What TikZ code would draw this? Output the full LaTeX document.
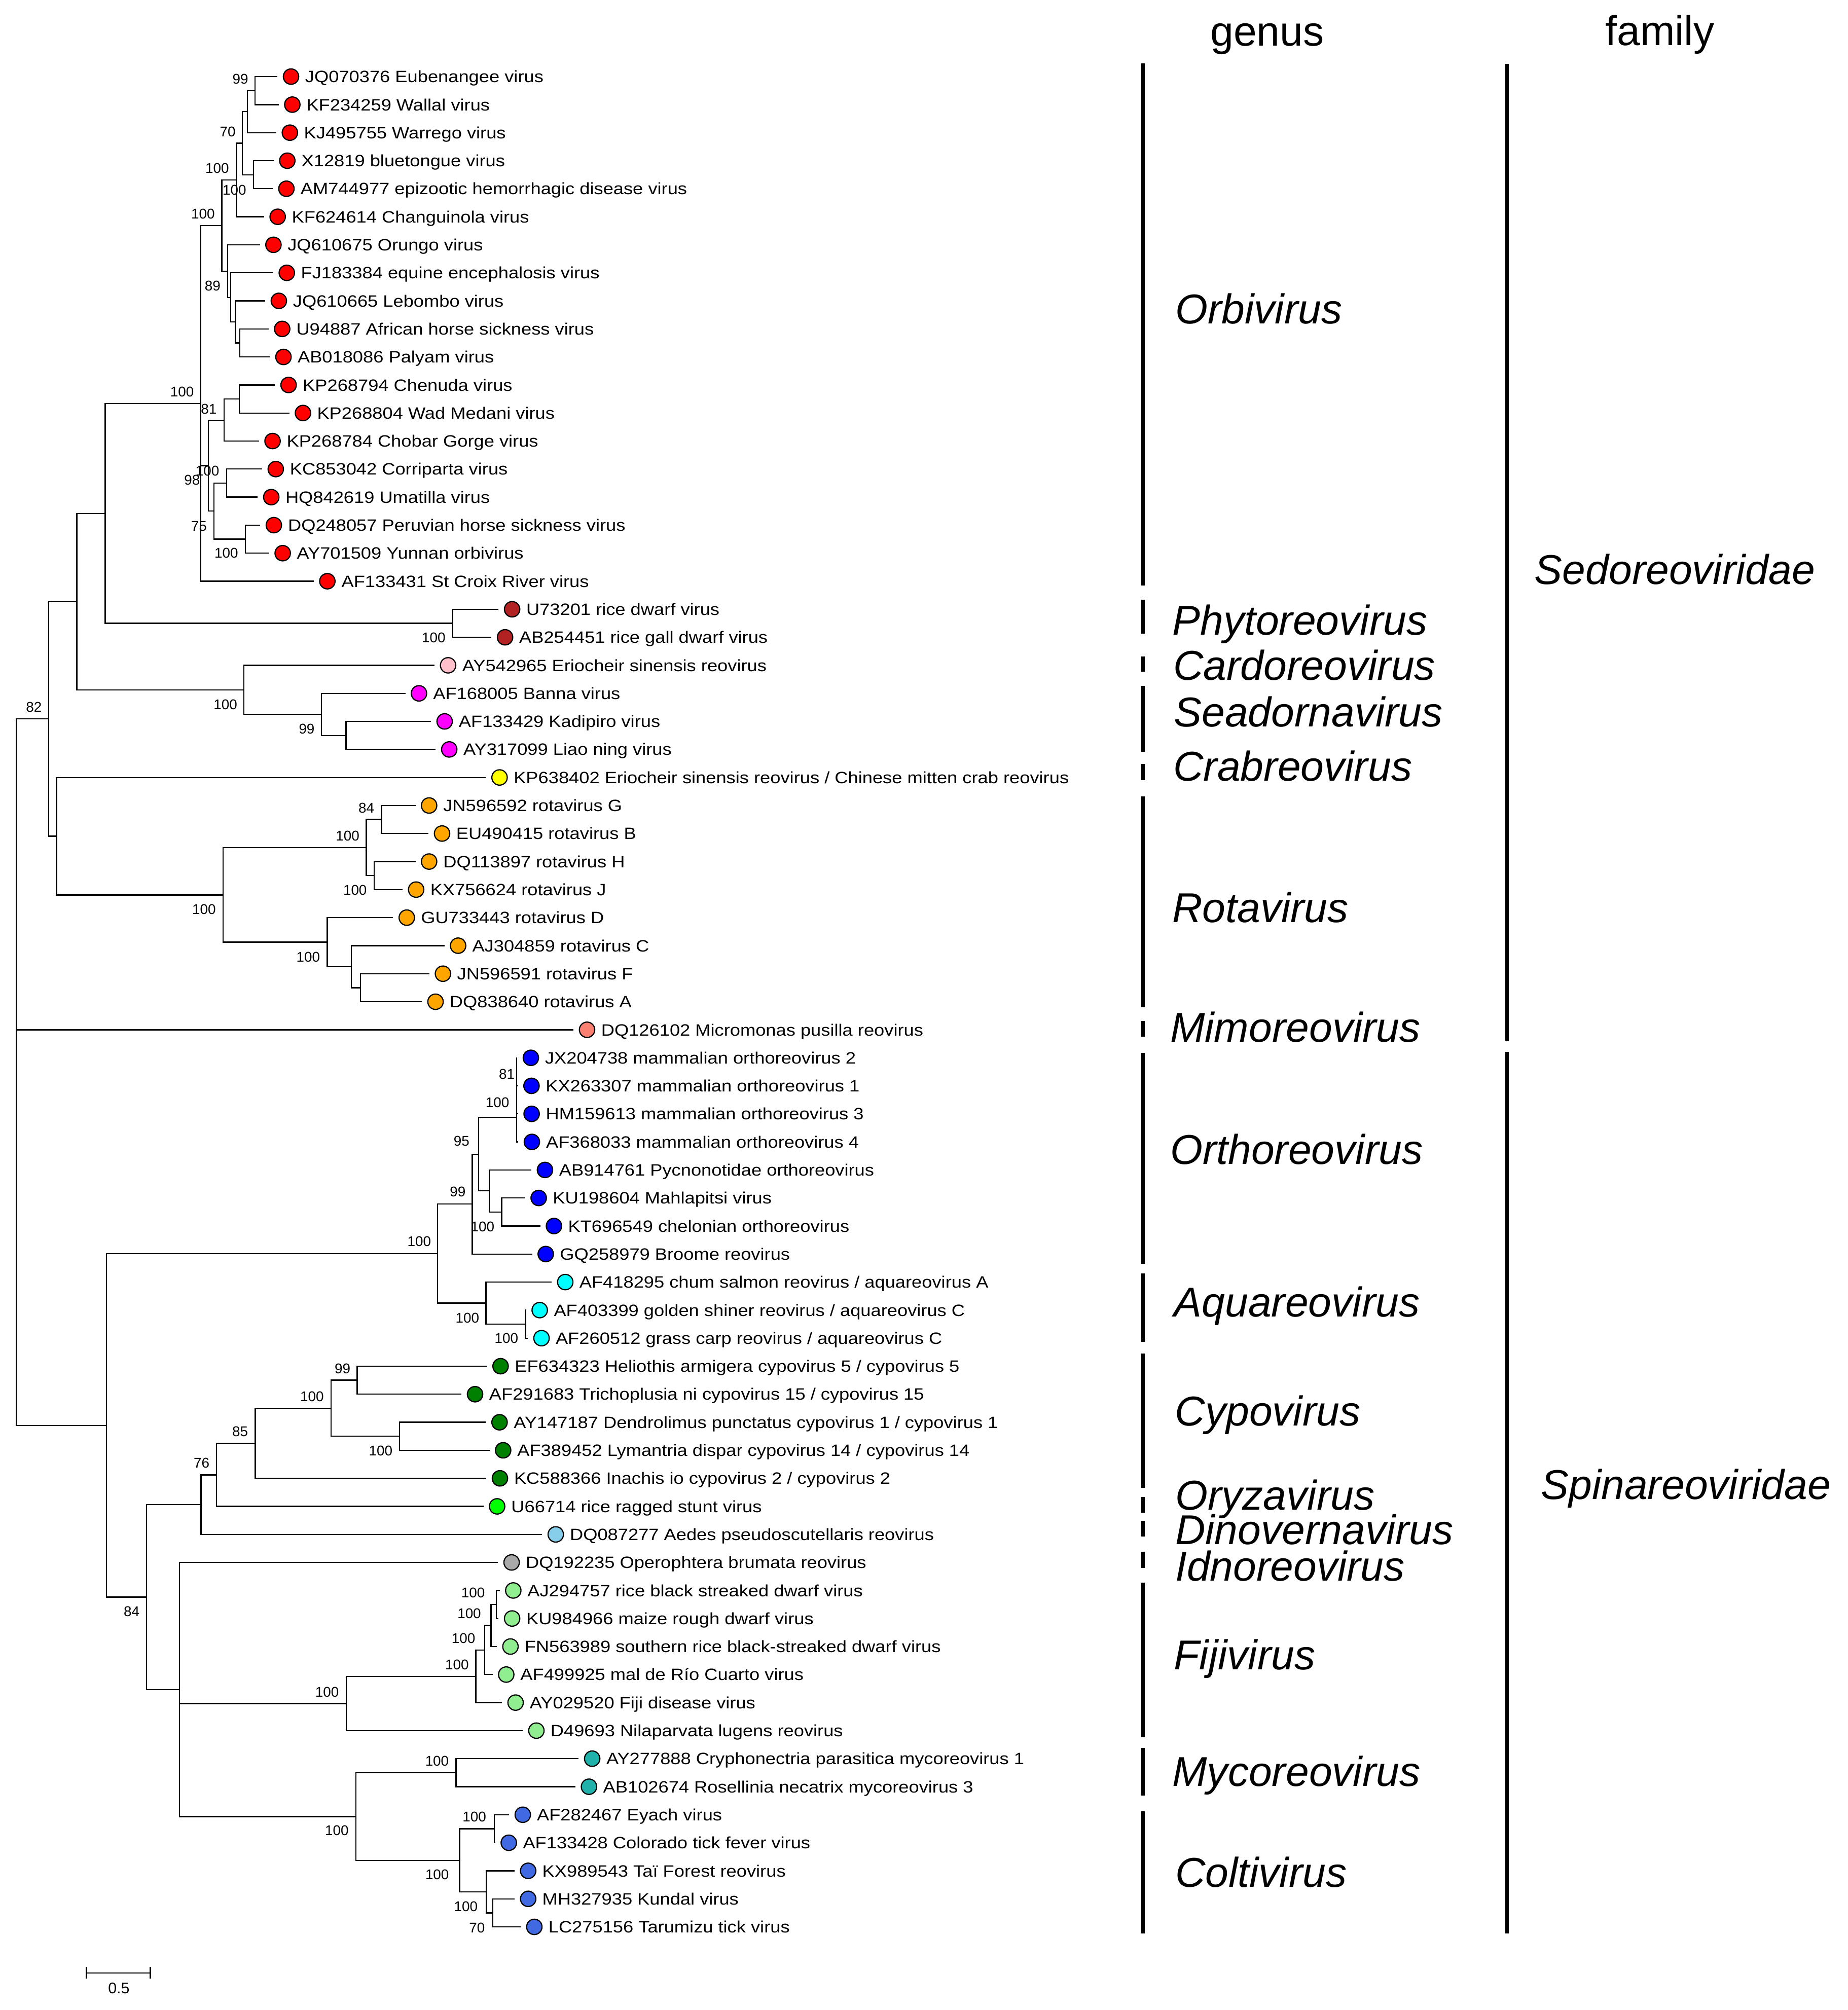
\documentclass[tikz,border=0pt]{standalone}
\usepackage{fontspec}
\setmainfont{Liberation Sans}
\newfontfamily\tipfont[FakeStretch=1.12]{Liberation Sans}
\definecolor{orbi}{HTML}{FF0000}
\definecolor{phyto}{HTML}{B22222}
\definecolor{cardo}{HTML}{FFC0CB}
\definecolor{seado}{HTML}{FF00FF}
\definecolor{crab}{HTML}{FFFF00}
\definecolor{rota}{HTML}{FFA500}
\definecolor{mimo}{HTML}{FA8072}
\definecolor{ortho}{HTML}{0000FF}
\definecolor{aqua}{HTML}{00FFFF}
\definecolor{cypo}{HTML}{008000}
\definecolor{oryza}{HTML}{00FF00}
\definecolor{dino}{HTML}{87CEEB}
\definecolor{idno}{HTML}{A9A9A9}
\definecolor{fiji}{HTML}{90EE90}
\definecolor{myco}{HTML}{20B2AA}
\definecolor{colti}{HTML}{4169E1}
\tikzset{
  tip/.style={circle, draw, line width=0.9pt, minimum size=12pt, inner sep=0pt, outer sep=4.6pt, label distance=0pt},
  lbl/.style={font=\tipfont\fontsize{12.8}{14}\selectfont, inner sep=0pt, text height=9.2pt, text depth=0pt},
  boot/.style={font=\fontsize{11}{12}\selectfont, inner sep=0pt, anchor=east, text height=7.9pt, text depth=0pt},
  taxon/.style={font=\itshape\fontsize{32.5}{36}\selectfont, inner sep=0pt, anchor=base west},
  head/.style={font=\fontsize{32.5}{36}\selectfont, inner sep=0pt, anchor=base},
  bar/.style={line width=2.6pt},
}
\begin{document}
\begin{tikzpicture}[x=1pt,y=-1pt,line width=0.9pt]
          \useasboundingbox (0,0) rectangle (1440.1,1566.6);
          \fill[white] (0,0) rectangle (1440.1,1566.6);

          % tips
          \node[tip, fill=orbi, label={[lbl]right:JQ070376 Eubenangee virus}] (JQ070376) at (226.8,59.7) {};
          \node[tip, fill=orbi, label={[lbl]right:KF234259 Wallal virus}] (KF234259) at (227.8,81.55) {};
          \node[tip, fill=orbi, label={[lbl]right:KJ495755 Warrego virus}] (KJ495755) at (225.9,103.4) {};
          \node[tip, fill=orbi, label={[lbl]right:X12819 bluetongue virus}] (X12819) at (223.9,125.25) {};
          \node[tip, fill=orbi, label={[lbl]right:AM744977 epizootic hemorrhagic disease virus}] (AM744977) at (223.2,147.1) {};
          \node[tip, fill=orbi, label={[lbl]right:KF624614 Changuinola virus}] (KF624614) at (216.4,168.95) {};
          \node[tip, fill=orbi, label={[lbl]right:JQ610675 Orungo virus}] (JQ610675) at (213.1,190.8) {};
          \node[tip, fill=orbi, label={[lbl]right:FJ183384 equine encephalosis virus}] (FJ183384) at (223.5,212.65) {};
          \node[tip, fill=orbi, label={[lbl]right:JQ610665 Lebombo virus}] (JQ610665) at (217.3,234.5) {};
          \node[tip, fill=orbi, label={[lbl]right:U94887 African horse sickness virus}] (U94887) at (219.9,256.35) {};
          \node[tip, fill=orbi, label={[lbl]right:AB018086 Palyam virus}] (AB018086) at (220.9,278.2) {};
          \node[tip, fill=orbi, label={[lbl]right:KP268794 Chenuda virus}] (KP268794) at (224.9,300.05) {};
          \node[tip, fill=orbi, label={[lbl]right:KP268804 Wad Medani virus}] (KP268804) at (236.1,321.9) {};
          \node[tip, fill=orbi, label={[lbl]right:KP268784 Chobar Gorge virus}] (KP268784) at (212.4,343.75) {};
          \node[tip, fill=orbi, label={[lbl]right:KC853042 Corriparta virus}] (KC853042) at (214.9,365.6) {};
          \node[tip, fill=orbi, label={[lbl]right:HQ842619 Umatilla virus}] (HQ842619) at (211.4,387.45) {};
          \node[tip, fill=orbi, label={[lbl]right:DQ248057 Peruvian horse sickness virus}] (DQ248057) at (213.4,409.3) {};
          \node[tip, fill=orbi, label={[lbl]right:AY701509 Yunnan orbivirus}] (AY701509) at (220.3,431.15) {};
          \node[tip, fill=orbi, label={[lbl]right:AF133431 St Croix River virus}] (AF133431) at (255.1,453.0) {};
          \node[tip, fill=phyto, label={[lbl]right:U73201 rice dwarf virus}] (U73201) at (399.1,474.85) {};
          \node[tip, fill=phyto, label={[lbl]right:AB254451 rice gall dwarf virus}] (AB254451) at (393.6,496.7) {};
          \node[tip, fill=cardo, label={[lbl]right:AY542965 Eriocheir sinensis reovirus}] (AY542965) at (349.2,518.55) {};
          \node[tip, fill=seado, label={[lbl]right:AF168005 Banna virus}] (AF168005) at (326.5,540.4) {};
          \node[tip, fill=seado, label={[lbl]right:AF133429 Kadipiro virus}] (AF133429) at (346.5,562.25) {};
          \node[tip, fill=seado, label={[lbl]right:AY317099 Liao ning virus}] (AY317099) at (350.1,584.1) {};
          \node[tip, fill=crab, label={[lbl]right:KP638402 Eriocheir sinensis reovirus / Chinese mitten crab reovirus}] (KP638402) at (389.3,605.95) {};
          \node[tip, fill=rota, label={[lbl]right:JN596592 rotavirus G}] (JN596592) at (334.4,627.8) {};
          \node[tip, fill=rota, label={[lbl]right:EU490415 rotavirus B}] (EU490415) at (344.5,649.65) {};
          \node[tip, fill=rota, label={[lbl]right:DQ113897 rotavirus H}] (DQ113897) at (334.4,671.5) {};
          \node[tip, fill=rota, label={[lbl]right:KX756624 rotavirus J}] (KX756624) at (324.3,693.35) {};
          \node[tip, fill=rota, label={[lbl]right:GU733443 rotavirus D}] (GU733443) at (317.0,715.2) {};
          \node[tip, fill=rota, label={[lbl]right:AJ304859 rotavirus C}] (AJ304859) at (357.0,737.05) {};
          \node[tip, fill=rota, label={[lbl]right:JN596591 rotavirus F}] (JN596591) at (345.2,758.9) {};
          \node[tip, fill=rota, label={[lbl]right:DQ838640 rotavirus A}] (DQ838640) at (339.4,780.75) {};
          \node[tip, fill=mimo, label={[lbl]right:DQ126102 Micromonas pusilla reovirus}] (DQ126102) at (457.5,802.6) {};
          \node[tip, fill=ortho, label={[lbl]right:JX204738 mammalian orthoreovirus 2}] (JX204738) at (413.7,824.45) {};
          \node[tip, fill=ortho, label={[lbl]right:KX263307 mammalian orthoreovirus 1}] (KX263307) at (414.2,846.3) {};
          \node[tip, fill=ortho, label={[lbl]right:HM159613 mammalian orthoreovirus 3}] (HM159613) at (414.3,868.15) {};
          \node[tip, fill=ortho, label={[lbl]right:AF368033 mammalian orthoreovirus 4}] (AF368033) at (414.5,890.0) {};
          \node[tip, fill=ortho, label={[lbl]right:AB914761 Pycnonotidae orthoreovirus}] (AB914761) at (424.7,911.85) {};
          \node[tip, fill=ortho, label={[lbl]right:KU198604 Mahlapitsi virus}] (KU198604) at (419.8,933.7) {};
          \node[tip, fill=ortho, label={[lbl]right:KT696549 chelonian orthoreovirus}] (KT696549) at (431.7,955.55) {};
          \node[tip, fill=ortho, label={[lbl]right:GQ258979 Broome reovirus}] (GQ258979) at (425.3,977.4) {};
          \node[tip, fill=aqua, label={[lbl]right:AF418295 chum salmon reovirus / aquareovirus A}] (AF418295) at (440.5,999.25) {};
          \node[tip, fill=aqua, label={[lbl]right:AF403399 golden shiner reovirus / aquareovirus C}] (AF403399) at (420.6,1021.1) {};
          \node[tip, fill=aqua, label={[lbl]right:AF260512 grass carp reovirus / aquareovirus C}] (AF260512) at (422.0,1042.95) {};
          \node[tip, fill=cypo, label={[lbl]right:EF634323 Heliothis armigera cypovirus 5 / cypovirus 5}] (EF634323) at (390.1,1064.8) {};
          \node[tip, fill=cypo, label={[lbl]right:AF291683 Trichoplusia ni cypovirus 15 / cypovirus 15}] (AF291683) at (370.2,1086.65) {};
          \node[tip, fill=cypo, label={[lbl]right:AY147187 Dendrolimus punctatus cypovirus 1 / cypovirus 1}] (AY147187) at (389.3,1108.5) {};
          \node[tip, fill=cypo, label={[lbl]right:AF389452 Lymantria dispar cypovirus 14 / cypovirus 14}] (AF389452) at (392.1,1130.35) {};
          \node[tip, fill=cypo, label={[lbl]right:KC588366 Inachis io cypovirus 2 / cypovirus 2}] (KC588366) at (389.6,1152.2) {};
          \node[tip, fill=oryza, label={[lbl]right:U66714 rice ragged stunt virus}] (U66714) at (387.4,1174.05) {};
          \node[tip, fill=dino, label={[lbl]right:DQ087277 Aedes pseudoscutellaris reovirus}] (DQ087277) at (433.1,1195.9) {};
          \node[tip, fill=idno, label={[lbl]right:DQ192235 Operophtera brumata reovirus}] (DQ192235) at (398.7,1217.75) {};
          \node[tip, fill=fiji, label={[lbl]right:AJ294757 rice black streaked dwarf virus}] (AJ294757) at (400.0,1239.6) {};
          \node[tip, fill=fiji, label={[lbl]right:KU984966 maize rough dwarf virus}] (KU984966) at (399.1,1261.45) {};
          \node[tip, fill=fiji, label={[lbl]right:FN563989 southern rice black-streaked dwarf virus}] (FN563989) at (397.8,1283.3) {};
          \node[tip, fill=fiji, label={[lbl]right:AF499925 mal de Río Cuarto virus}] (AF499925) at (394.5,1305.15) {};
          \node[tip, fill=fiji, label={[lbl]right:AY029520 Fiji disease virus}] (AY029520) at (401.8,1327.0) {};
          \node[tip, fill=fiji, label={[lbl]right:D49693 Nilaparvata lugens reovirus}] (D49693) at (418.0,1348.85) {};
          \node[tip, fill=myco, label={[lbl]right:AY277888 Cryphonectria parasitica mycoreovirus 1}] (AY277888) at (461.5,1370.7) {};
          \node[tip, fill=myco, label={[lbl]right:AB102674 Rosellinia necatrix mycoreovirus 3}] (AB102674) at (459.0,1392.55) {};
          \node[tip, fill=colti, label={[lbl]right:AF282467 Eyach virus}] (AF282467) at (407.4,1414.4) {};
          \node[tip, fill=colti, label={[lbl]right:AF133428 Colorado tick fever virus}] (AF133428) at (396.5,1436.25) {};
          \node[tip, fill=colti, label={[lbl]right:KX989543 Taï Forest reovirus}] (KX989543) at (411.6,1458.1) {};
          \node[tip, fill=colti, label={[lbl]right:MH327935 Kundal virus}] (MH327935) at (411.6,1479.95) {};
          \node[tip, fill=colti, label={[lbl]right:LC275156 Tarumizu tick virus}] (LC275156) at (416.4,1501.8) {};

          % inner nodes
          \coordinate (orbA) at (198.8,70.6);
          \coordinate (orbB) at (192.8,87.0);
          \coordinate (orbC) at (189.0,111.6);
          \coordinate (orbD) at (197.6,136.2);
          \coordinate (orbE) at (184.2,140.3);
          \coordinate (orbF) at (172.9,175.8);
          \coordinate (orbG) at (177.4,211.3);
          \coordinate (orbH) at (179.8,231.8);
          \coordinate (orbI) at (183.4,250.9);
          \coordinate (orbJ) at (186.9,267.3);
          \coordinate (orbK) at (186.4,311.0);
          \coordinate (orbL) at (174.5,327.4);
          \coordinate (orbM) at (176.7,376.5);
          \coordinate (orbN) at (191.2,420.2);
          \coordinate (orbO) at (166.6,398.4);
          \coordinate (orbP) at (162.3,362.9);
          \coordinate (orbQ) at (156.5,314.4);
          \coordinate (phy) at (352.8,485.8);
          \coordinate (sedA) at (82.0,400.1);
          \coordinate (seaB) at (269.7,573.2);
          \coordinate (seaA) at (250.6,556.8);
          \coordinate (car) at (190.1,537.7);
          \coordinate (sedB) at (59.9,468.9);
          \coordinate (rotA1) at (297.3,638.7);
          \coordinate (rotA2) at (291.5,682.4);
          \coordinate (rotA) at (285.5,660.6);
          \coordinate (rotB3) at (281.0,769.8);
          \coordinate (rotB2) at (273.9,753.4);
          \coordinate (rotB) at (255.0,734.3);
          \coordinate (rot) at (173.9,697.5);
          \coordinate (sedC) at (44.1,651.7);
          \coordinate (sedD) at (37.8,560.3);
          \coordinate (root) at (12.6,835.7);
          \coordinate (mamA) at (402.6,835.4);
          \coordinate (mamB) at (402.6,851.8);
          \coordinate (mam) at (402.6,870.9);
          \coordinate (ortC) at (391.0,944.6);
          \coordinate (ortB) at (381.3,928.2);
          \coordinate (ortA) at (373.0,899.6);
          \coordinate (ort) at (368.0,938.5);
          \coordinate (aquB) at (409.5,1032.0);
          \coordinate (aqu) at (378.7,1015.6);
          \coordinate (ortaqu) at (341.0,977.1);
          \coordinate (cypA) at (278.4,1075.7);
          \coordinate (cypC) at (311.4,1119.4);
          \coordinate (cypB) at (257.9,1097.6);
          \coordinate (cyp) at (198.9,1124.9);
          \coordinate (spiA) at (168.7,1149.5);
          \coordinate (spiB) at (156.7,1172.7);
          \coordinate (fijD) at (386.9,1250.5);
          \coordinate (fijC) at (382.7,1266.9);
          \coordinate (fijB) at (377.6,1286.0);
          \coordinate (fijA) at (370.8,1306.5);
          \coordinate (fij) at (269.8,1327.7);
          \coordinate (myc) at (355.4,1381.6);
          \coordinate (colA) at (385.2,1425.3);
          \coordinate (colC) at (383.9,1490.9);
          \coordinate (colB) at (378.9,1474.5);
          \coordinate (col) at (358.2,1449.9);
          \coordinate (myccol) at (277.4,1415.8);
          \coordinate (spiC) at (140.0,1316.8);
          \coordinate (spiD) at (114.3,1244.8);
          \coordinate (spi) at (83.0,1111.0);

          % branches
          \draw (JQ070376) -| (orbA) |- (KF234259);
          \draw (orbA) -| (orbB) |- (KJ495755);
          \draw (X12819) -| (orbD) |- (AM744977);
          \draw (orbB) -| (orbC) |- (orbD);
          \draw (orbC) -| (orbE) |- (KF624614);
          \draw (U94887) -| (orbJ) |- (AB018086);
          \draw (JQ610665) -| (orbI) |- (orbJ);
          \draw (FJ183384) -| (orbH) |- (orbI);
          \draw (JQ610675) -| (orbG) |- (orbH);
          \draw (orbE) -| (orbF) |- (orbG);
          \draw (KP268794) -| (orbK) |- (KP268804);
          \draw (orbK) -| (orbL) |- (KP268784);
          \draw (KC853042) -| (orbM) |- (HQ842619);
          \draw (DQ248057) -| (orbN) |- (AY701509);
          \draw (orbM) -| (orbO) |- (orbN);
          \draw (orbL) -| (orbP) |- (orbO);
          \draw (orbF) -| (orbQ) |- (AF133431) (orbQ) |- (orbP);
          \draw (U73201) -| (phy) |- (AB254451);
          \draw (orbQ) -| (sedA) |- (phy);
          \draw (AF133429) -| (seaB) |- (AY317099);
          \draw (AF168005) -| (seaA) |- (seaB);
          \draw (AY542965) -| (car) |- (seaA);
          \draw (sedA) -| (sedB) |- (car);
          \draw (JN596592) -| (rotA1) |- (EU490415);
          \draw (DQ113897) -| (rotA2) |- (KX756624);
          \draw (rotA1) -| (rotA) |- (rotA2);
          \draw (JN596591) -| (rotB3) |- (DQ838640);
          \draw (AJ304859) -| (rotB2) |- (rotB3);
          \draw (GU733443) -| (rotB) |- (rotB2);
          \draw (rotA) -| (rot) |- (rotB);
          \draw (KP638402) -| (sedC) |- (rot);
          \draw (sedB) -| (sedD) |- (sedC);
          \draw (sedD) -| (root) |- (spi) (root) |- (DQ126102);
          \draw (JX204738) -| (mamA) |- (KX263307);
          \draw (mamA) -| (mamB) |- (HM159613);
          \draw (mamB) -| (mam) |- (AF368033);
          \draw (KU198604) -| (ortC) |- (KT696549);
          \draw (AB914761) -| (ortB) |- (ortC);
          \draw (mam) -| (ortA) |- (ortB);
          \draw (ortA) -| (ort) |- (GQ258979);
          \draw (AF403399) -| (aquB) |- (AF260512);
          \draw (AF418295) -| (aqu) |- (aquB);
          \draw (ort) -| (ortaqu) |- (aqu);
          \draw (EF634323) -| (cypA) |- (AF291683);
          \draw (AY147187) -| (cypC) |- (AF389452);
          \draw (cypA) -| (cypB) |- (cypC);
          \draw (cypB) -| (cyp) |- (KC588366);
          \draw (cyp) -| (spiA) |- (U66714);
          \draw (spiA) -| (spiB) |- (DQ087277);
          \draw (AJ294757) -| (fijD) |- (KU984966);
          \draw (fijD) -| (fijC) |- (FN563989);
          \draw (fijC) -| (fijB) |- (AF499925);
          \draw (fijB) -| (fijA) |- (AY029520);
          \draw (fijA) -| (fij) |- (D49693);
          \draw (AY277888) -| (myc) |- (AB102674);
          \draw (AF282467) -| (colA) |- (AF133428);
          \draw (MH327935) -| (colC) |- (LC275156);
          \draw (KX989543) -| (colB) |- (colC);
          \draw (colA) -| (col) |- (colB);
          \draw (myc) -| (myccol) |- (col);
          \draw (DQ192235) -| (spiC) |- (myccol) (spiC) |- (fij);
          \draw (spiB) -| (spiD) |- (spiC);
          \draw (ortaqu) -| (spi) |- (spiD);

          % bootstrap
          \node[boot] (bOrbA) at (193.9,61.3) {99};
          \node[boot] (bOrbC) at (184.0,102.4) {70};
          \node[boot] (bOrbD) at (192.3,147.8) {100};
          \node[boot] (bOrbE) at (178.9,130.8) {100};
          \node[boot] (bOrbF) at (167.8,166.4) {100};
          \node[boot] (bOrbG) at (172.3,222.5) {89};
          \node[boot] (bOrbQ) at (151.5,305.3) {100};
          \node[boot] (bOrbL) at (169.3,318.5) {81};
          \node[boot] (bOrbM) at (171.3,367.0) {100};
          \node[boot] (bOrbP) at (156.3,373.8) {98};
          \node[boot] (bOrbO) at (161.6,410.0) {75};
          \node[boot] (bOrbN) at (186.0,431.0) {100};
          \node[boot] (bPhy) at (347.6,496.7) {100};
          \node[boot] (bCar) at (185.3,548.8) {100};
          \node[boot] (bSea) at (245.6,568.0) {99};
          \node[boot] (bSedD) at (33.0,551.0) {82};
          \node[boot] (bRotA1) at (292.1,629.4) {84};
          \node[boot] (bRotA) at (280.5,651.2) {100};
          \node[boot] (bRotA2) at (286.3,693.5) {100};
          \node[boot] (bRot) at (168.6,708.8) {100};
          \node[boot] (bRotB) at (249.8,745.8) {100};
          \node[boot] (bMamA) at (401.5,837.0) {81};
          \node[boot] (bMam) at (397.3,859.0) {100};
          \node[boot] (bOrtA) at (366.3,889.0) {95};
          \node[boot] (bOrt) at (363.3,928.5) {99};
          \node[boot] (bOrtC) at (385.7,956.0) {100};
          \node[boot] (bOrtAqu) at (336.3,967.5) {100};
          \node[boot] (bAqu) at (373.9,1027.0) {100};
          \node[boot] (bAquB) at (404.3,1042.7) {100};
          \node[boot] (bCypA) at (273.5,1066.5) {99};
          \node[boot] (bCypB) at (252.8,1088.5) {100};
          \node[boot] (bCyp) at (193.7,1115.5) {85};
          \node[boot] (bCypC) at (306.3,1130.7) {100};
          \node[boot] (bSpiA) at (163.7,1140.0) {76};
          \node[boot] (bSpiD) at (109.1,1256.0) {84};
          \node[boot] (bFijD) at (378.3,1241.4) {100};
          \node[boot] (bFijC) at (375.3,1257.5) {100};
          \node[boot] (bFijB) at (370.8,1276.8) {100};
          \node[boot] (bFijA) at (365.8,1297.5) {100};
          \node[boot] (bFij) at (264.5,1318.5) {100};
          \node[boot] (bMyc) at (350.2,1372.5) {100};
          \node[boot] (bColA) at (379.3,1416.0) {100};
          \node[boot] (bMycCol) at (272.1,1426.7) {100};
          \node[boot] (bCol) at (350.3,1461.0) {100};
          \node[boot] (bColB) at (372.7,1485.6) {100};
          \node[boot] (bColC) at (378.3,1502.2) {70};

          % scale bar
          \coordinate (sbL) at (67.4,1537.6);
          \coordinate (sbR) at (117.2,1537.6);
          \draw (sbL) -- (sbR);
          \draw ([yshift=4.5pt]sbL) -- ([yshift=-4.5pt]sbL);
          \draw ([yshift=4.5pt]sbR) -- ([yshift=-4.5pt]sbR);
          \node[font=\fontsize{12}{13}\selectfont, inner sep=0pt] (sbT) at (92.6,1549.5) {0.5};

          % genus and family
          \node[head] (hGenus) at (987.5,35.8) {genus};
          \node[head] (hFamily) at (1293.5,35.3) {family};
          \draw[bar] (890.8,49.4) -- (890.8,456.4);
          \draw[bar] (890.8,467.5) -- (890.8,493.9);
          \draw[bar] (890.8,511.6) -- (890.8,523.7);
          \draw[bar] (890.8,534.5) -- (890.8,586.1);
          \draw[bar] (890.8,595.5) -- (890.8,608.0);
          \draw[bar] (890.8,620.6) -- (890.8,785.0);
          \draw[bar] (890.8,795.7) -- (890.8,807.9);
          \draw[bar] (890.8,820.5) -- (890.8,985.0);
          \draw[bar] (890.8,992.5) -- (890.8,1046.0);
          \draw[bar] (890.8,1055.0) -- (890.8,1159.6);
          \draw[bar] (890.8,1166.7) -- (890.8,1179.0);
          \draw[bar] (890.8,1185.3) -- (890.8,1197.4);
          \draw[bar] (890.8,1209.3) -- (890.8,1222.0);
          \draw[bar] (890.8,1233.4) -- (890.8,1354.1);
          \draw[bar] (890.8,1362.4) -- (890.8,1399.5);
          \draw[bar] (890.8,1411.6) -- (890.8,1507.0);
          \draw[bar] (1174.4,49.8) -- (1174.4,811.0);
          \draw[bar] (1174.4,820.0) -- (1174.4,1507.0);
          \node[taxon] (gOrbi) at (915.5,252.4) {Orbivirus};
          \node[taxon] (gPhyto) at (913.2,494.7) {Phytoreovirus};
          \node[taxon] (gCardo) at (914.0,530.0) {Cardoreovirus};
          \node[taxon] (gSeado) at (914.4,566.5) {Seadornavirus};
          \node[taxon] (gCrab) at (914.0,608.6) {Crabreovirus};
          \node[taxon] (gRota) at (913.2,718.9) {Rotavirus};
          \node[taxon] (gMimo) at (911.5,812.2) {Mimoreovirus};
          \node[taxon] (gOrtho) at (911.5,907.4) {Orthoreovirus};
          \node[taxon] (gAqua) at (914.5,1026.4) {Aquareovirus};
          \node[taxon] (gCypo) at (915.3,1111.2) {Cypovirus};
          \node[taxon] (gOryza) at (915.5,1176.7) {Oryzavirus};
          \node[taxon] (gDino) at (915.5,1203.7) {Dinovernavirus};
          \node[taxon] (gIdno) at (915.5,1232.2) {Idnoreovirus};
          \node[taxon] (gFiji) at (914.5,1301.2) {Fijivirus};
          \node[taxon] (gMyco) at (913.2,1392.2) {Mycoreovirus};
          \node[taxon] (gColti) at (915.5,1470.8) {Coltivirus};
          \node[taxon] (fSedo) at (1195.5,455.4) {Sedoreoviridae};
          \node[taxon] (fSpina) at (1200.5,1168.4) {Spinareoviridae};
      \end{tikzpicture}
\end{document}
